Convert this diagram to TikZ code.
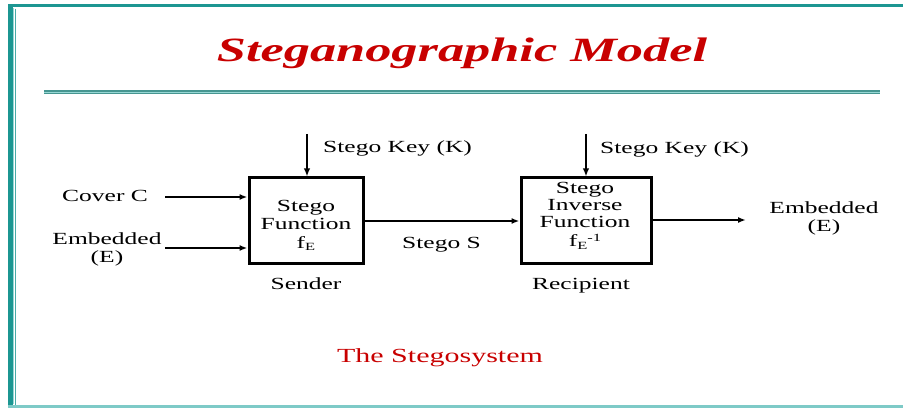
\documentclass[tikz,border=0pt]{standalone}
\usepackage{fontspec}
\setmainfont{Liberation Serif}[FakeStretch=1.5]
\newfontfamily\titlefont{Liberation Serif}[FakeStretch=1.54]
\usetikzlibrary{arrows.meta}

\definecolor{frameteal}{RGB}{28,150,146}
\definecolor{framelight}{RGB}{150,215,212}
\definecolor{ruleteal}{RGB}{70,150,145}
\definecolor{titlered}{RGB}{200,0,0}

\tikzset{
  body/.style={font=\fontsize{17}{17.5}\selectfont, inner sep=0pt, anchor=base},
  blockbox/.style={draw, line width=3pt, minimum width=114pt, minimum height=85pt, inner sep=0pt},
  flow/.style={line width=1.7pt, -{Latex[length=8pt,width=6pt]}},
  keyflow/.style={line width=2.5pt, -{Latex[length=8pt,width=6.5pt]}},
}

\newcommand{\fsub}{f\raisebox{-0.35ex}{\fontsize{11}{11}\selectfont E}}

\begin{document}
\begin{tikzpicture}[x=1pt,y=-1pt]
  \useasboundingbox (0,0) rectangle (903,409);

  % slide frame
  \draw[frameteal, line width=4.4pt] (10.3,5.6) -- (10.3,406.5);
  \draw[frameteal, line width=3.4pt] (8,5.6) -- (930,5.6);
  \draw[framelight, line width=1.2pt] (13.2,8.2) -- (13.2,404);
  \draw[frameteal!80, line width=1.3pt] (15.3,8.6) -- (15.3,404.5);
  \draw[framelight!80!frameteal, line width=3pt] (8,406.8) -- (930,406.8);

  % title and rule
  \node[inner sep=0pt, anchor=base, text=titlered,
        font=\titlefont\bfseries\itshape\fontsize{34}{34}\selectfont]
        (title) at (462,62) {Steganographic Model};
  \draw[ruleteal, line width=4pt] (44,92.5) -- (880,92.5);
  \draw[framelight, line width=0.8pt] (44,92.5) -- (880,92.5);

  % blocks
  \node[blockbox] (sender) at (306,220.5) {};
  \node[blockbox, minimum width=130pt] (recip) at (586,220.5) {};

  % multi-line texts are placed by the baseline of their last line
  \node[body, align=center] (sendtxt) at (306,248) {Stego\\Function\\[1.5pt]\fsub};
  \node[body, align=center] (reciptxt) at (585,247) {Stego\\Inverse\\Function\\[1.5pt]\fsub\raisebox{0.75ex}{\fontsize{11}{11}\selectfont -1}};

  % keys
  \coordinate (key1) at (307,134);
  \coordinate (key2) at (586,134);
  \draw[keyflow] (key1) -- (key1 |- sender.north);
  \draw[keyflow] (key2) -- (key2 |- recip.north);
  \node[body, anchor=base west] (k1txt) at (323,153) {Stego Key (K)};
  \node[body, anchor=base west] (k2txt) at (600,154) {Stego Key (K)};

  % inputs
  \node[body, anchor=base west] (covertxt) at (62,201) {Cover C};
  \node[body, align=center] (embtxt) at (107,262) {Embedded\\(E)};
  \coordinate (coverin) at (165,197);
  \coordinate (embin) at (165,248);
  \draw[flow] (coverin) -- (coverin -| sender.west);
  \draw[flow] (embin) -- (embin -| sender.west);

  % stego channel
  \coordinate (channel) at (440,221);
  \draw[flow] (channel -| sender.east) -- (channel -| recip.west);
  \node[body, anchor=base west] (stegotxt) at (402,248) {Stego S};

  % output
  \coordinate (out) at (746,220);
  \draw[flow] (out -| recip.east) -- (out);
  \node[body, align=center] (outtxt) at (824,231) {Embedded\\(E)};

  % captions
  \node[body] (sendlbl) at (306,289) {Sender};
  \node[body] (reciplbl) at (581,289) {Recipient};
  \node[inner sep=0pt, anchor=base, text=titlered, font=\fontsize{20}{20}\selectfont]
        (system) at (440,362) {The Stegosystem};
\end{tikzpicture}
\end{document}
